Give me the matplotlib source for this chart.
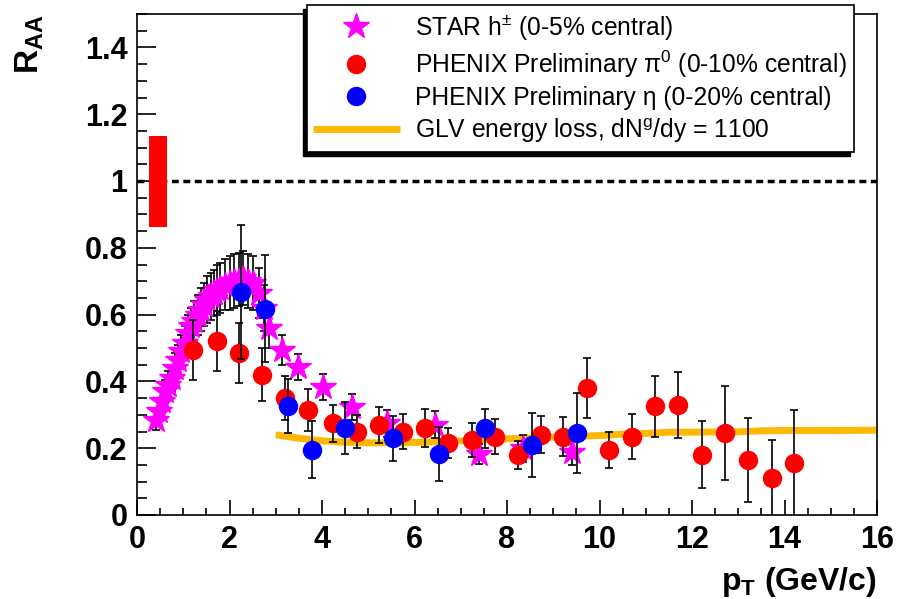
import matplotlib
matplotlib.use("Agg")
import matplotlib.pyplot as plt
from matplotlib.patches import Rectangle
from matplotlib.ticker import MultipleLocator

plt.rcParams['font.family'] = ['Liberation Sans', 'DejaVu Sans']
plt.rcParams['mathtext.fontset'] = 'custom'
plt.rcParams['mathtext.rm'] = 'Liberation Sans'
plt.rcParams['mathtext.it'] = 'Liberation Sans:italic'
plt.rcParams['mathtext.bf'] = 'Liberation Sans:bold'

# STAR charged hadrons (0-5% central)
star_x = [0.40, 0.47, 0.54, 0.61, 0.68, 0.75, 0.82, 0.89, 0.96, 1.03, 1.10, 1.17,
          1.24, 1.31, 1.38, 1.45, 1.52, 1.59, 1.66, 1.73, 1.80, 1.90, 2.00, 2.10,
          2.20, 2.30, 2.40, 2.50, 2.63, 2.75, 2.85, 3.13, 3.48, 4.03, 4.64, 5.40,
          6.45, 7.40, 8.35, 9.40]
star_y = [0.285, 0.31, 0.34, 0.37, 0.39, 0.41, 0.44, 0.465, 0.49, 0.515, 0.545, 0.565,
          0.58, 0.60, 0.615, 0.63, 0.645, 0.655, 0.665, 0.675, 0.68, 0.69, 0.695, 0.70,
          0.705, 0.71, 0.70, 0.695, 0.665, 0.62, 0.56, 0.495, 0.443, 0.383, 0.323, 0.275,
          0.27, 0.183, 0.20, 0.19]
star_err = [0.03, 0.03, 0.035, 0.035, 0.04, 0.04, 0.045, 0.045, 0.05, 0.05, 0.055, 0.055,
            0.06, 0.06, 0.065, 0.065, 0.07, 0.07, 0.07, 0.075, 0.075, 0.075, 0.08, 0.08,
            0.08, 0.08, 0.08, 0.08, 0.075, 0.07, 0.06, 0.045, 0.04, 0.04, 0.04, 0.04,
            0.04, 0.03, 0.04, 0.04]

# PHENIX pi0 (0-10% central)
pi0_x = [1.21, 1.73, 2.20, 2.70, 3.20, 3.70, 4.23, 4.75, 5.23, 5.75, 6.22, 6.72, 7.24,
         7.73, 8.23, 8.73, 9.22, 9.74, 10.20, 10.70, 11.20, 11.70, 12.22, 12.72, 13.22,
         13.73, 14.20]
pi0_y = [0.494, 0.52, 0.485, 0.42, 0.35, 0.315, 0.275, 0.25, 0.27, 0.25, 0.26, 0.215, 0.225,
         0.235, 0.18, 0.24, 0.235, 0.38, 0.195, 0.235, 0.325, 0.33, 0.18, 0.245, 0.165,
         0.11, 0.155]
pi0_err = [0.09, 0.09, 0.09, 0.08, 0.065, 0.063, 0.055, 0.05, 0.053, 0.052, 0.056, 0.045, 0.05,
           0.052, 0.043, 0.055, 0.057, 0.09, 0.053, 0.067, 0.09, 0.098, 0.10, 0.14, 0.125,
           0.115, 0.16]

# PHENIX eta (0-20% central)
eta_x = [2.25, 2.77, 3.27, 3.78, 4.50, 5.53, 6.52, 7.52, 8.53, 9.52]
eta_y = [0.668, 0.617, 0.326, 0.195, 0.26, 0.23, 0.183, 0.26, 0.21, 0.245]
eta_err = [0.2, 0.16, 0.08, 0.085, 0.078, 0.067, 0.08, 0.058, 0.095, 0.12]

# GLV energy loss curve
glv_x = [3.0, 3.5, 4.0, 4.5, 5.0, 6.0, 7.0, 8.0, 9.0, 10.0, 10.5, 11.0, 11.5, 12.0,
         13.0, 13.5, 14.0, 15.0, 16.0]
glv_y = [0.24, 0.23, 0.222, 0.218, 0.216, 0.217, 0.222, 0.228, 0.233, 0.238, 0.242, 0.244,
         0.248, 0.248, 0.249, 0.252, 0.253, 0.253, 0.254]

# normalisation uncertainty box at R_AA = 1
norm_x0, norm_x1 = 0.26, 0.64
norm_lo, norm_hi = 0.863, 1.136

labels = ['STAR h$^{\\pm}$ (0-5% central)',
          'PHENIX Preliminary \u03c0$^{0}$ (0-10% central)',
          'PHENIX Preliminary \u03b7 (0-20% central)',
          'GLV energy loss, dN$^{\\mathrm{g}}$/dy = 1100']

fig = plt.figure(figsize=(9.06, 5.99), dpi=100)
ax = fig.add_axes([137 / 906, 1 - 515 / 599, 740 / 906, 501 / 599])

ax.add_patch(Rectangle((norm_x0, norm_lo), norm_x1 - norm_x0, norm_hi - norm_lo,
                       color='#ff0000', lw=0, zorder=2))
ax.axhline(1.0, color='black', lw=2.5, ls=(0, (2.0, 1.3)), zorder=1)

glv, = ax.plot(glv_x, glv_y, color='#ffb800', lw=5, solid_capstyle='butt', zorder=1,
               label=labels[3])

ebar = dict(fmt='none', ecolor='black', elinewidth=1.2, capsize=3, capthick=1.2)
ax.errorbar(star_x, star_y, yerr=star_err, zorder=3, **ebar)
star, = ax.plot(star_x, star_y, ls='none', marker='*', ms=19, color='#ff00ff',
                mec='#ff00ff', zorder=4, label=labels[0])
ax.errorbar(pi0_x, pi0_y, yerr=pi0_err, zorder=5, **ebar)
pi0, = ax.plot(pi0_x, pi0_y, ls='none', marker='o', ms=13, color='#ff0000',
               mec='#ff0000', zorder=6, label=labels[1])
ax.errorbar(eta_x, eta_y, yerr=eta_err, zorder=7, **ebar)
eta, = ax.plot(eta_x, eta_y, ls='none', marker='o', ms=13, color='#0000ff',
               mec='#0000ff', zorder=8, label=labels[2])

ax.set_xlim(0, 16)
ax.set_ylim(0, 1.5)
ax.xaxis.set_major_locator(MultipleLocator(2))
ax.xaxis.set_minor_locator(MultipleLocator(0.5))
ax.yaxis.set_major_locator(MultipleLocator(0.2))
ax.yaxis.set_minor_locator(MultipleLocator(0.05))
ax.yaxis.set_major_formatter(plt.FuncFormatter(lambda v, p: f'{v:g}'))
ax.tick_params(axis='both', which='both', direction='in', top=False, right=False,
               width=1.2, labelsize=22)
ax.tick_params(axis='y', which='major', length=14, pad=7)
ax.tick_params(axis='y', which='minor', length=7)
ax.tick_params(axis='x', which='major', length=11, pad=7)
ax.tick_params(axis='x', which='minor', length=5)
for lab in ax.get_xticklabels() + ax.get_yticklabels():
    lab.set_fontweight('bold')
for s in ax.spines.values():
    s.set_linewidth(1.2)

fig.text(30 / 906, 1 - 14 / 599, r'$\mathbf{R}_{\mathbf{AA}}$', rotation=90,
         ha='center', va='top', fontsize=24)
fig.text(877 / 906, 1 - 590 / 599, r'$\mathbf{p}_{\mathbf{T}}$ (GeV/c)', ha='right',
         va='baseline', fontsize=23, fontweight='bold')

leg = ax.legend(handles=[star, pi0, eta, glv], loc='upper right',
                bbox_to_anchor=(854 / 906, 1 - 5 / 599), bbox_transform=fig.transFigure,
                fontsize=17.7, frameon=True, fancybox=False, edgecolor='black',
                framealpha=1, handlelength=3.5, handletextpad=0.65, labelspacing=0.26,
                borderpad=0.28, borderaxespad=0)
leg.get_frame().set_linewidth(1.2)
leg.set_zorder(20)

# dark shadow under the legend frame, offset down-left
fig.canvas.draw()
bb = leg.get_window_extent().transformed(fig.transFigure.inverted())
dx, dy = 4 / 906, 4 / 599
shadow = Rectangle((bb.x0 - dx, bb.y0 - dy), bb.width, bb.height,
                   transform=fig.transFigure, color='black', zorder=19, clip_on=False)
ax.add_artist(shadow)

fig.savefig('out.png', dpi=100)
